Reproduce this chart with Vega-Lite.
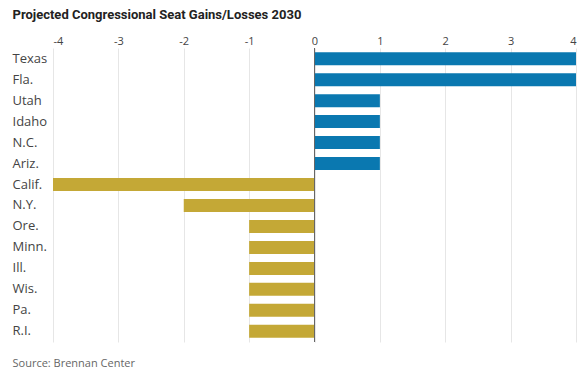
{
  "$schema": "https://vega.github.io/schema/vega-lite/v6.json",
  "autosize": {"type": "none"},
  "width": 523,
  "height": 294,
  "padding": {"left": 53, "top": 48, "right": 8, "bottom": 38},
  "background": "white",
  "config": {"view": {"stroke": null}, "font": "Open Sans"},
  "data": {"values": [
    {"state": "Texas", "change": 4},
    {"state": "Fla.", "change": 4},
    {"state": "Utah", "change": 1},
    {"state": "Idaho", "change": 1},
    {"state": "N.C.", "change": 1},
    {"state": "Ariz.", "change": 1},
    {"state": "Calif.", "change": -4},
    {"state": "N.Y.", "change": -2},
    {"state": "Ore.", "change": -1},
    {"state": "Minn.", "change": -1},
    {"state": "Ill.", "change": -1},
    {"state": "Wis.", "change": -1},
    {"state": "Pa.", "change": -1},
    {"state": "R.I.", "change": -1}
  ]},
  "layer": [
    {
      "mark": {"type": "bar"},
      "encoding": {
        "y": {
          "field": "state", "type": "nominal", "sort": null,
          "scale": {"paddingInner": 0.38, "paddingOuter": 0.2},
          "axis": {
            "title": "Source: Brennan Center",
            "titleAngle": 0, "titleAlign": "left", "titleBaseline": "alphabetic",
            "titleX": -41, "titleY": 318, "titleFontSize": 11, "titleFontWeight": "normal",
            "titleColor": "#666", "titleFont": "Open Sans",
            "labelAlign": "left", "labelPadding": 41, "labelFontSize": 13,
            "labelColor": "#444", "ticks": false, "domain": false, "grid": false
          }
        },
        "x": {
          "field": "change", "type": "quantitative",
          "scale": {"domain": [-4, 4], "nice": false},
          "axis": {
            "orient": "top", "values": [-4, -3, -2, -1, 0, 1, 2, 3, 4],
            "labelExpr": "'' + datum.value",
            "title": "Projected Congressional Seat Gains/Losses 2030",
            "titleAnchor": "start", "titleAlign": "left", "titleBaseline": "alphabetic",
            "titleX": -41, "titleY": -30, "titleFontSize": 13, "titleFontWeight": "bold",
            "titleColor": "#222", "titleFont": "Roboto",
            "labelFontSize": 11, "labelColor": "#444", "labelPadding": 2,
            "ticks": false, "domain": false,
            "grid": true, "gridColor": "#e6e6e6", "gridWidth": 1
          }
        },
        "color": {
          "condition": {"test": "datum.change > 0", "value": "#0a78b0"},
          "value": "#c4a836"
        }
      }
    },
    {
      "mark": {"type": "rule", "color": "#666", "strokeWidth": 1},
      "encoding": {"x": {"datum": 0}}
    }
  ]
}
